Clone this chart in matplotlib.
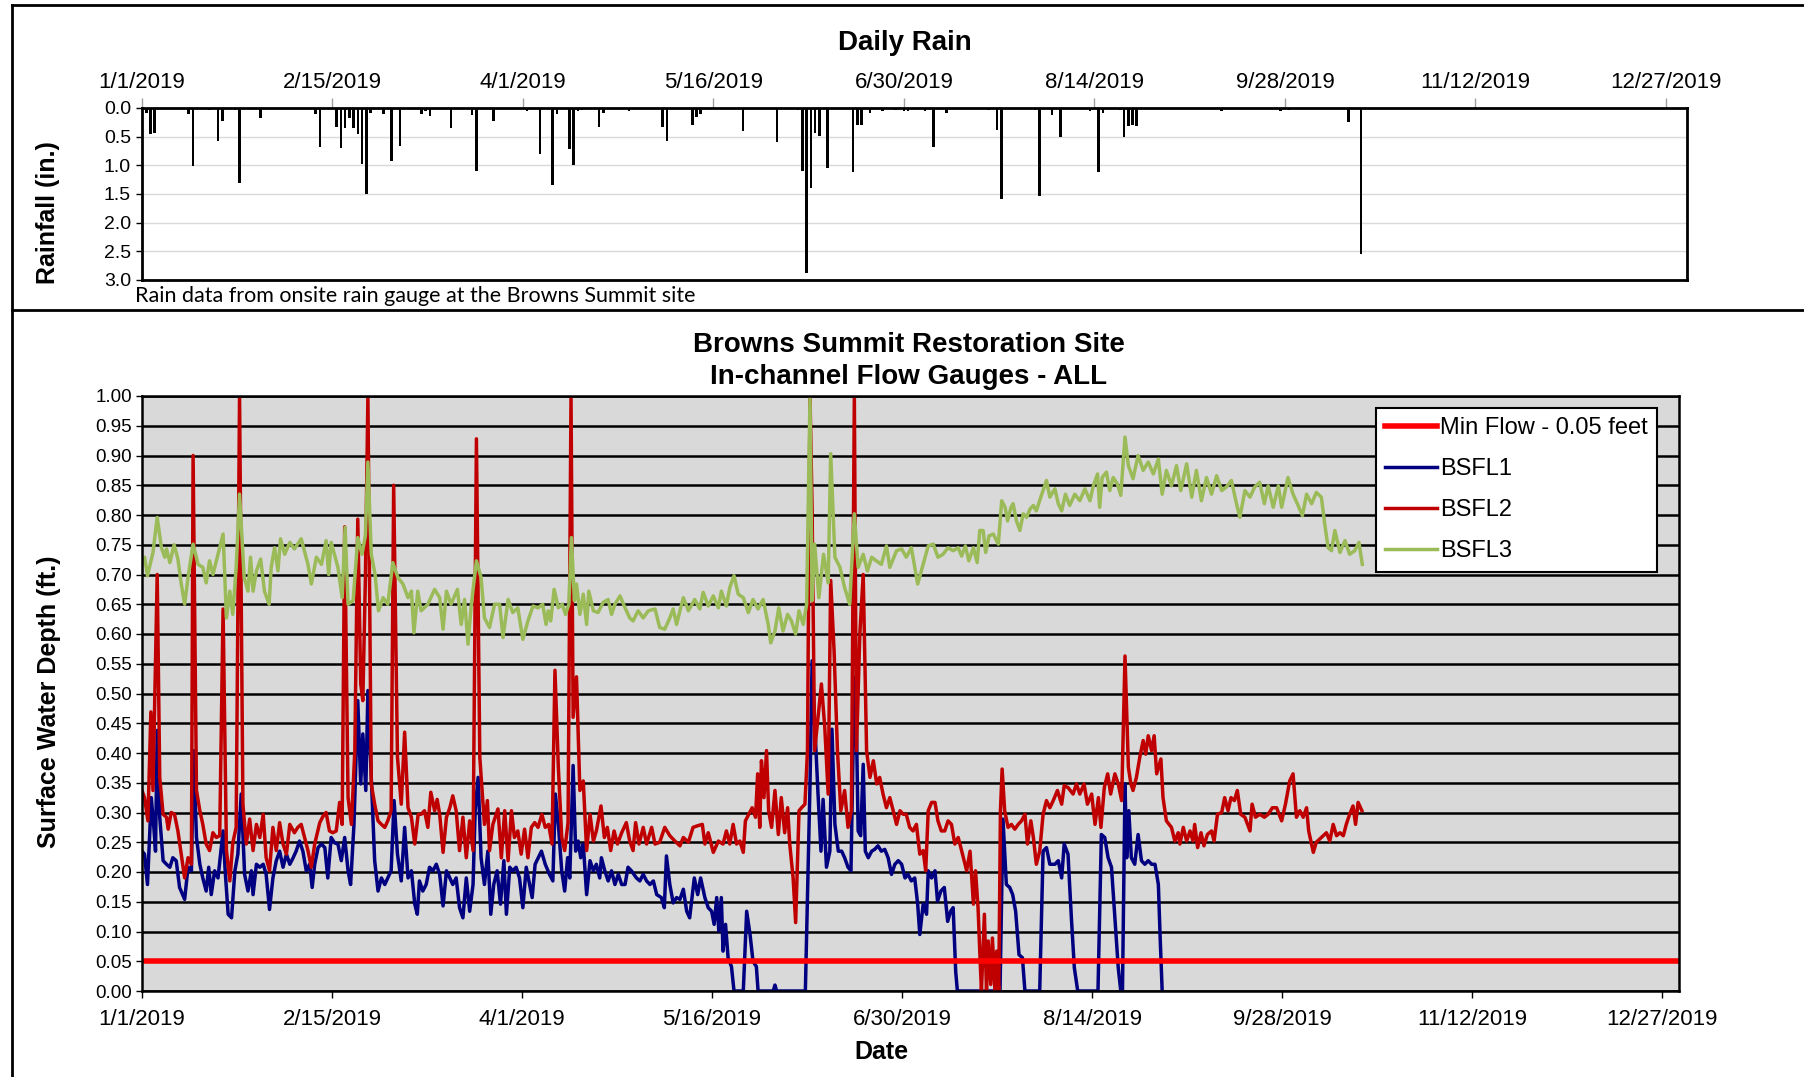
import matplotlib

matplotlib.use("Agg")
import matplotlib.pyplot as plt
import numpy as np
import pandas as pd
from matplotlib.lines import Line2D

W, H = 1804, 1077
START = pd.Timestamp("2019-01-01")
FONT = "Liberation Sans"

# ---- data (day offset from 1/1/2019, value) ----
rain = [(1, 0.08), (2, 0.45), (3, 0.43), (11, 0.10), (12, 1.02), (16, 0.03), (18, 0.58), (19, 0.22),
        (22, 0.03), (23, 1.30), (28, 0.18), (41, 0.10), (42, 0.68), (46, 0.33), (47, 0.70), (48, 0.35),
        (49, 0.18), (50, 0.35), (51, 0.45), (52, 0.97), (53, 1.50), (54, 0.08), (57, 0.10), (59, 0.93),
        (61, 0.66), (66, 0.10), (67, 0.06), (68, 0.14), (73, 0.35), (78, 0.12), (79, 1.10), (83, 0.22),
        (87, 0.02), (91, 0.05), (94, 0.80), (97, 1.35), (98, 0.10), (101, 0.72), (102, 1.00), (103, 0.05),
        (104, 0.04), (108, 0.33), (109, 0.08), (115, 0.05), (123, 0.33), (124, 0.58), (130, 0.30),
        (131, 0.16), (132, 0.10), (142, 0.40), (150, 0.60), (155, 0.03), (156, 1.10), (157, 2.87),
        (158, 1.40), (159, 0.43), (160, 0.48), (162, 1.05), (168, 1.12), (169, 0.30), (170, 0.30),
        (172, 0.08), (175, 0.05), (178, 0.03), (180, 0.06), (181, 0.06), (185, 0.05), (187, 0.68),
        (190, 0.08), (200, 0.03), (202, 0.38), (203, 1.58), (211, 0.03), (212, 1.53), (215, 0.13),
        (217, 0.50), (224, 0.05), (226, 1.12), (227, 0.08), (231, 0.03), (232, 0.50), (233, 0.32),
        (234, 0.30), (235, 0.32), (239, 0.01), (255, 0.06), (269, 0.06), (271, 0.03), (285, 0.25),
        (288, 2.55)]

bsfl1 = [(0.0, 0.235), (0.6, 0.23), (1.3, 0.179), (2.2, 0.325), (2.8, 0.275), (3.2, 0.235), (3.6, 0.438),
         (4.2, 0.292), (5.0, 0.219), (5.8, 0.213), (6.6, 0.208), (7.3, 0.224), (8.1, 0.219), (8.9, 0.174),
         (10.1, 0.154), (10.9, 0.208), (11.7, 0.202), (12.2, 0.404), (12.9, 0.258), (13.7, 0.213),
         (14.4, 0.19), (15.2, 0.168), (15.8, 0.208), (16.4, 0.162), (17.2, 0.202), (18.0, 0.19),
         (19.2, 0.269), (19.7, 0.202), (20.4, 0.129), (21.2, 0.123), (22.0, 0.202), (22.7, 0.23),
         (23.5, 0.331), (24.3, 0.196), (25.1, 0.168), (25.9, 0.202), (26.3, 0.162), (27.1, 0.213),
         (27.9, 0.208), (28.7, 0.213), (29.4, 0.196), (30.2, 0.137), (31.0, 0.19), (31.8, 0.219),
         (32.6, 0.235), (33.4, 0.208), (34.2, 0.23), (35.0, 0.213), (35.8, 0.224), (36.5, 0.235),
         (37.3, 0.252), (38.1, 0.235), (38.9, 0.202), (39.7, 0.213), (40.3, 0.174), (40.9, 0.213),
         (41.7, 0.241), (42.5, 0.247), (43.3, 0.241), (44.0, 0.19), (44.8, 0.258), (45.6, 0.249),
         (46.4, 0.247), (47.2, 0.219), (48.0, 0.258), (48.8, 0.202), (49.4, 0.179), (50.2, 0.28),
         (51.1, 0.488), (51.8, 0.348), (52.3, 0.432), (53.0, 0.337), (53.5, 0.505), (54.3, 0.359),
         (55.1, 0.219), (55.9, 0.168), (56.7, 0.19), (57.5, 0.179), (58.2, 0.19), (59.0, 0.202),
         (59.7, 0.32), (60.5, 0.23), (61.4, 0.185), (62.2, 0.275), (63.0, 0.19), (63.8, 0.202),
         (64.6, 0.146), (65.2, 0.129), (65.7, 0.185), (66.5, 0.168), (67.3, 0.179), (68.1, 0.208),
         (68.9, 0.202), (69.7, 0.213), (70.5, 0.196), (71.3, 0.143), (72.1, 0.202), (72.9, 0.19),
         (73.6, 0.179), (74.4, 0.19), (75.2, 0.14), (76.0, 0.123), (76.8, 0.19), (77.6, 0.134),
         (78.4, 0.179), (78.9, 0.303), (79.6, 0.359), (80.3, 0.224), (81.1, 0.179), (81.9, 0.235),
         (82.6, 0.129), (83.3, 0.179), (84.1, 0.202), (84.9, 0.146), (85.7, 0.219), (86.3, 0.129),
         (87.1, 0.208), (87.8, 0.202), (88.6, 0.208), (89.4, 0.19), (90.2, 0.14), (91.0, 0.208),
         (91.8, 0.179), (92.4, 0.157), (93.1, 0.213), (94.6, 0.235), (95.5, 0.213), (96.5, 0.196),
         (97.3, 0.185), (97.9, 0.331), (98.6, 0.28), (99.4, 0.202), (100.1, 0.168), (100.8, 0.224),
         (101.3, 0.19), (102.1, 0.379), (102.7, 0.235), (103.3, 0.252), (103.9, 0.224), (104.5, 0.247),
         (105.3, 0.162), (106.1, 0.219), (106.9, 0.202), (107.6, 0.213), (108.4, 0.19), (108.8, 0.224),
         (109.6, 0.202), (110.4, 0.185), (111.2, 0.202), (112.0, 0.179), (112.8, 0.196), (113.6, 0.179),
         (114.4, 0.179), (115.1, 0.208), (115.9, 0.202), (117.1, 0.19), (117.9, 0.185), (118.7, 0.196),
         (119.5, 0.185), (120.3, 0.179), (121.1, 0.185), (121.9, 0.162), (123.0, 0.157), (123.7, 0.14),
         (124.2, 0.227), (125.0, 0.179), (125.8, 0.148), (126.6, 0.157), (127.4, 0.154), (128.2, 0.171),
         (129.0, 0.134), (129.7, 0.123), (130.8, 0.19), (131.6, 0.162), (132.3, 0.19), (133.3, 0.157),
         (134.1, 0.14), (134.9, 0.134), (135.5, 0.112), (136.1, 0.157), (136.6, 0.101), (137.2, 0.157),
         (137.6, 0.067), (138.2, 0.112), (138.8, 0.056), (139.6, 0.041), (140.2, 0.0), (142.4, 0.0),
         (143.2, 0.134), (144.0, 0.095), (144.7, 0.05), (145.5, 0.041), (145.9, 0.0), (149.5, 0.0),
         (149.9, 0.01), (150.3, 0.0), (157.1, 0.0), (158.2, 0.348), (158.7, 0.555), (159.3, 0.452),
         (160.1, 0.331), (160.8, 0.235), (161.3, 0.322), (162.1, 0.208), (162.9, 0.235), (163.4, 0.44),
         (164.1, 0.28), (164.9, 0.235), (165.7, 0.235), (166.4, 0.224), (167.2, 0.208), (167.9, 0.202),
         (168.4, 0.404), (169.0, 0.528), (169.6, 0.269), (170.2, 0.261), (170.8, 0.381), (171.3, 0.235),
         (172.0, 0.224), (172.8, 0.235), (173.5, 0.238), (174.3, 0.244), (175.1, 0.235), (175.9, 0.238),
         (176.7, 0.224), (177.5, 0.196), (178.3, 0.213), (179.1, 0.219), (179.9, 0.213), (180.7, 0.19),
         (181.4, 0.196), (182.2, 0.185), (183.0, 0.19), (183.7, 0.146), (184.2, 0.095), (185.0, 0.146),
         (185.8, 0.129), (186.2, 0.202), (187.0, 0.19), (187.8, 0.202), (188.4, 0.151), (189.2, 0.168),
         (190.0, 0.174), (190.8, 0.117), (191.5, 0.134), (192.1, 0.14), (192.7, 0.033), (193.1, 0.0),
         (203.2, 0.0), (203.9, 0.289), (204.7, 0.179), (205.5, 0.174), (206.2, 0.162), (206.9, 0.134),
         (207.7, 0.061), (208.5, 0.056), (209.1, 0.0), (212.6, 0.0), (213.4, 0.235), (214.2, 0.241),
         (215.0, 0.213), (216.2, 0.213), (217.0, 0.219), (217.8, 0.19), (218.4, 0.247), (219.3, 0.23),
         (220.1, 0.123), (220.8, 0.039), (221.6, 0.0), (226.4, 0.0), (227.2, 0.263), (228.0, 0.258),
         (228.8, 0.224), (229.6, 0.208), (230.4, 0.123), (231.2, 0.039), (231.8, 0.0), (232.2, 0.0),
         (232.8, 0.348), (233.2, 0.224), (233.7, 0.303), (234.3, 0.224), (235.1, 0.213), (235.9, 0.263),
         (236.7, 0.219), (237.5, 0.213), (238.3, 0.219), (239.1, 0.213), (239.9, 0.213), (240.7, 0.179),
         (241.1, 0.095), (241.6, 0.0)]

bsfl2 = [(0.0, 0.337), (0.6, 0.325), (1.4, 0.286), (2.1, 0.469), (2.6, 0.337), (3.6, 0.70), (4.2, 0.359),
         (5.0, 0.297), (5.8, 0.292), (6.2, 0.272), (6.9, 0.30), (7.7, 0.297), (8.5, 0.269), (9.3, 0.23),
         (10.1, 0.19), (10.9, 0.224), (11.7, 0.213), (12.1, 0.90), (12.9, 0.337), (13.7, 0.303),
         (14.4, 0.28), (15.2, 0.247), (16.0, 0.236), (16.8, 0.266), (17.6, 0.258), (18.4, 0.261),
         (19.2, 0.642), (20.0, 0.236), (20.8, 0.185), (21.5, 0.249), (22.3, 0.275), (23.1, 1.0),
         (23.9, 0.314), (24.7, 0.247), (25.5, 0.289), (26.3, 0.236), (27.1, 0.28), (27.9, 0.258),
         (28.7, 0.297), (29.4, 0.224), (30.2, 0.202), (31.0, 0.275), (31.8, 0.236), (32.6, 0.283),
         (33.4, 0.247), (34.2, 0.23), (35.0, 0.28), (36.1, 0.266), (36.9, 0.275), (37.7, 0.28),
         (38.5, 0.258), (39.3, 0.236), (40.1, 0.208), (40.9, 0.247), (42.1, 0.283), (42.9, 0.294),
         (43.6, 0.30), (44.4, 0.269), (45.2, 0.266), (46.0, 0.269), (46.8, 0.317), (47.4, 0.28),
         (48.0, 0.78), (48.8, 0.325), (49.6, 0.28), (50.4, 0.404), (51.1, 0.793), (51.8, 0.516),
         (52.3, 0.488), (52.9, 0.692), (53.5, 1.0), (54.3, 0.348), (55.1, 0.314), (55.9, 0.286),
         (56.7, 0.28), (57.5, 0.275), (58.2, 0.286), (59.0, 0.303), (59.6, 0.85), (60.5, 0.393),
         (61.4, 0.314), (62.2, 0.435), (63.0, 0.308), (63.8, 0.292), (64.6, 0.247), (65.4, 0.297),
         (66.1, 0.297), (66.9, 0.303), (67.7, 0.275), (68.4, 0.334), (69.3, 0.303), (69.9, 0.322),
         (70.5, 0.297), (71.3, 0.233), (72.1, 0.292), (72.9, 0.308), (73.6, 0.328), (74.4, 0.303),
         (75.2, 0.236), (76.0, 0.292), (76.8, 0.224), (77.6, 0.286), (78.4, 0.236), (79.2, 0.928),
         (80.0, 0.393), (81.1, 0.28), (81.8, 0.32), (82.3, 0.236), (83.1, 0.28), (84.3, 0.306),
         (85.1, 0.224), (85.9, 0.303), (86.7, 0.219), (87.5, 0.303), (88.2, 0.258), (89.0, 0.269),
         (89.8, 0.23), (90.6, 0.272), (91.4, 0.224), (92.2, 0.275), (93.0, 0.283), (93.8, 0.275),
         (94.7, 0.297), (95.5, 0.275), (96.3, 0.28), (97.1, 0.247), (97.8, 0.539), (98.6, 0.376),
         (99.4, 0.258), (100.1, 0.236), (100.9, 0.283), (101.6, 1.0), (102.1, 0.46), (102.9, 0.528),
         (103.7, 0.337), (104.5, 0.353), (105.3, 0.236), (106.1, 0.297), (106.9, 0.252), (107.6, 0.269),
         (108.7, 0.311), (109.5, 0.258), (110.2, 0.275), (111.0, 0.236), (111.8, 0.269), (112.6, 0.247),
         (113.6, 0.266), (114.7, 0.283), (115.5, 0.252), (116.3, 0.236), (116.9, 0.283), (117.7, 0.247),
         (118.7, 0.275), (119.5, 0.247), (120.7, 0.275), (121.5, 0.247), (122.6, 0.25), (123.8, 0.275),
         (125.0, 0.261), (126.2, 0.252), (127.4, 0.244), (128.2, 0.258), (129.4, 0.25), (130.5, 0.275),
         (131.7, 0.278), (132.7, 0.28), (133.3, 0.247), (134.1, 0.266), (135.3, 0.233), (136.5, 0.252),
         (137.6, 0.247), (138.4, 0.269), (139.2, 0.247), (140.0, 0.28), (140.8, 0.247), (141.6, 0.252),
         (142.4, 0.233), (142.9, 0.286), (143.7, 0.297), (144.5, 0.308), (145.3, 0.292), (145.8, 0.365),
         (146.3, 0.275), (146.7, 0.387), (147.3, 0.325), (147.9, 0.404), (148.4, 0.303), (149.1, 0.275),
         (149.9, 0.337), (150.7, 0.263), (151.4, 0.325), (152.2, 0.266), (152.9, 0.308), (153.4, 0.247),
         (154.2, 0.19), (154.8, 0.115), (155.6, 0.303), (156.2, 0.308), (157.0, 0.314), (157.6, 0.404),
         (158.2, 1.0), (158.7, 0.807), (159.3, 0.404), (160.1, 0.46), (160.9, 0.516), (161.7, 0.443),
         (162.5, 0.331), (163.1, 0.69), (163.9, 0.572), (164.7, 0.404), (165.5, 0.303), (166.4, 0.337),
         (167.2, 0.275), (168.0, 0.303), (168.7, 1.0), (169.2, 0.404), (170.0, 0.60), (170.8, 0.70),
         (171.6, 0.404), (172.4, 0.359), (173.2, 0.387), (174.0, 0.348), (174.7, 0.359), (175.5, 0.331),
         (176.3, 0.308), (177.1, 0.325), (177.9, 0.303), (178.7, 0.28), (179.5, 0.303), (180.3, 0.297),
         (181.0, 0.297), (181.8, 0.275), (182.6, 0.269), (183.4, 0.28), (184.2, 0.23), (185.0, 0.236),
         (185.6, 0.202), (186.2, 0.303), (187.0, 0.317), (187.8, 0.317), (188.5, 0.286), (189.3, 0.269),
         (190.1, 0.269), (190.9, 0.286), (191.7, 0.28), (192.5, 0.247), (193.3, 0.258), (194.1, 0.236),
         (195.3, 0.202), (196.1, 0.235), (196.9, 0.146), (197.4, 0.202), (198.0, 0.14), (198.4, 0.067),
         (198.8, 0.0), (199.5, 0.129), (200.0, 0.0), (200.4, 0.084), (201.0, 0.011), (201.4, 0.089),
         (202.0, 0.0), (202.4, 0.067), (202.9, 0.0), (203.3, 0.303), (203.7, 0.373), (204.3, 0.303),
         (205.1, 0.275), (205.9, 0.28), (206.7, 0.272), (207.5, 0.28), (208.3, 0.286), (209.1, 0.297),
         (209.7, 0.247), (210.5, 0.286), (211.1, 0.258), (211.8, 0.213), (212.6, 0.235), (213.4, 0.297),
         (214.2, 0.32), (215.0, 0.308), (215.8, 0.32), (216.8, 0.337), (217.8, 0.314), (218.4, 0.345),
         (219.3, 0.342), (220.5, 0.331), (221.3, 0.348), (222.1, 0.331), (223.1, 0.348), (223.9, 0.314),
         (224.9, 0.331), (225.7, 0.28), (226.5, 0.325), (227.1, 0.275), (227.9, 0.342), (228.7, 0.365),
         (229.4, 0.331), (230.4, 0.365), (231.2, 0.348), (232.0, 0.32), (232.8, 0.563), (233.6, 0.376),
         (234.2, 0.348), (234.7, 0.337), (235.5, 0.359), (236.3, 0.393), (237.1, 0.421), (237.7, 0.398),
         (238.3, 0.429), (239.1, 0.404), (239.7, 0.429), (240.3, 0.365), (241.3, 0.39), (241.8, 0.325),
         (242.6, 0.286), (243.8, 0.275), (244.6, 0.252), (245.4, 0.266), (245.8, 0.247), (246.6, 0.275),
         (247.4, 0.252), (248.2, 0.269), (248.9, 0.252), (249.3, 0.28), (250.0, 0.241), (250.8, 0.266),
         (251.5, 0.244), (252.3, 0.263), (253.3, 0.269), (253.9, 0.252), (254.7, 0.297), (255.7, 0.30),
         (256.4, 0.325), (257.2, 0.303), (257.9, 0.325), (258.7, 0.32), (259.4, 0.337), (260.2, 0.297),
         (261.2, 0.292), (262.4, 0.269), (262.9, 0.314), (263.7, 0.292), (264.7, 0.297), (265.8, 0.292),
         (266.7, 0.297), (267.7, 0.308), (268.7, 0.308), (269.9, 0.286), (270.8, 0.314), (271.8, 0.353),
         (272.6, 0.365), (273.4, 0.292), (274.2, 0.303), (275.0, 0.292), (275.8, 0.308), (276.3, 0.269),
         (277.4, 0.233), (278.1, 0.25), (279.3, 0.258), (280.5, 0.266), (281.3, 0.252), (282.1, 0.28),
         (282.9, 0.261), (283.7, 0.266), (284.5, 0.261), (285.2, 0.28), (286.0, 0.297), (286.8, 0.311),
         (287.4, 0.28), (288.0, 0.317), (288.9, 0.303)]

bsfl3 = [(0.0, 0.717), (0.6, 0.729), (1.3, 0.698), (2.6, 0.737), (3.6, 0.796), (4.6, 0.745), (5.4, 0.729),
         (5.8, 0.743), (6.6, 0.72), (7.6, 0.75), (8.5, 0.726), (9.3, 0.684), (10.1, 0.65), (10.9, 0.695),
         (12.1, 0.751), (13.3, 0.717), (14.4, 0.712), (15.2, 0.686), (16.0, 0.723), (16.8, 0.70),
         (18.0, 0.734), (19.2, 0.768), (20.0, 0.627), (20.8, 0.672), (21.5, 0.633), (22.3, 0.712),
         (23.1, 0.835), (24.2, 0.695), (25.1, 0.672), (25.7, 0.729), (26.3, 0.672), (27.1, 0.706),
         (28.1, 0.726), (29.0, 0.672), (30.1, 0.65), (30.6, 0.712), (31.4, 0.745), (32.2, 0.706),
         (32.8, 0.76), (33.8, 0.734), (35.0, 0.754), (36.1, 0.743), (37.7, 0.76), (39.3, 0.717),
         (40.1, 0.684), (41.3, 0.729), (42.5, 0.717), (43.6, 0.757), (44.2, 0.70), (44.8, 0.754),
         (46.4, 0.712), (47.4, 0.661), (48.1, 0.779), (48.8, 0.65), (50.0, 0.656), (51.1, 0.762),
         (52.1, 0.734), (52.9, 0.765), (53.5, 0.889), (54.3, 0.734), (55.2, 0.70), (56.0, 0.639),
         (57.1, 0.661), (58.2, 0.65), (59.4, 0.72), (60.6, 0.695), (61.8, 0.684), (63.0, 0.661),
         (63.8, 0.672), (64.4, 0.602), (65.3, 0.672), (66.1, 0.639), (67.7, 0.65), (69.3, 0.675),
         (70.5, 0.661), (71.3, 0.608), (72.1, 0.672), (73.2, 0.65), (74.7, 0.675), (75.6, 0.616),
         (76.4, 0.658), (77.2, 0.583), (78.0, 0.65), (79.2, 0.723), (80.3, 0.695), (81.1, 0.627),
         (82.3, 0.611), (83.5, 0.65), (84.7, 0.65), (85.5, 0.594), (86.7, 0.658), (87.8, 0.636),
         (89.0, 0.644), (90.2, 0.591), (91.4, 0.622), (92.6, 0.647), (93.8, 0.644), (94.9, 0.65),
         (95.7, 0.616), (96.2, 0.639), (96.8, 0.622), (97.6, 0.675), (98.6, 0.644), (99.5, 0.65),
         (100.3, 0.633), (101.1, 0.65), (101.7, 0.762), (102.4, 0.656), (102.9, 0.684), (103.7, 0.633),
         (104.5, 0.667), (105.3, 0.616), (105.8, 0.672), (106.9, 0.639), (108.0, 0.636), (109.2, 0.653),
         (110.4, 0.658), (111.2, 0.633), (112.0, 0.65), (113.2, 0.664), (114.4, 0.644), (115.5, 0.627),
         (116.3, 0.622), (117.5, 0.639), (118.7, 0.627), (119.9, 0.639), (121.5, 0.642), (122.6, 0.611),
         (123.8, 0.608), (125.0, 0.627), (125.8, 0.642), (126.6, 0.616), (127.4, 0.639), (128.2, 0.661),
         (129.4, 0.639), (130.9, 0.658), (132.1, 0.642), (132.9, 0.67), (134.1, 0.647), (135.3, 0.664),
         (136.5, 0.644), (137.2, 0.672), (138.4, 0.647), (139.2, 0.678), (140.2, 0.698), (141.2, 0.667),
         (142.4, 0.661), (143.6, 0.636), (144.7, 0.658), (145.9, 0.642), (147.1, 0.658), (148.3, 0.616),
         (148.9, 0.585), (149.9, 0.605), (150.8, 0.644), (151.8, 0.605), (152.9, 0.633), (153.8, 0.622),
         (154.8, 0.60), (155.6, 0.639), (156.6, 0.616), (157.4, 0.65), (158.2, 1.0), (158.7, 0.656),
         (159.3, 0.751), (160.3, 0.661), (161.4, 0.734), (162.5, 0.686), (163.1, 0.903), (164.1, 0.729),
         (165.3, 0.712), (166.4, 0.678), (167.6, 0.65), (168.7, 0.802), (169.6, 0.712), (170.8, 0.734),
         (171.8, 0.706), (172.8, 0.729), (173.9, 0.723), (175.1, 0.717), (176.3, 0.748), (177.1, 0.712),
         (178.7, 0.74), (179.9, 0.743), (181.0, 0.729), (182.2, 0.745), (183.7, 0.684), (185.0, 0.717),
         (186.2, 0.748), (187.4, 0.751), (188.5, 0.729), (189.7, 0.734), (190.9, 0.745), (192.1, 0.74),
         (193.3, 0.745), (194.1, 0.731), (195.0, 0.748), (195.8, 0.723), (196.9, 0.745), (197.8, 0.72),
         (198.4, 0.774), (199.2, 0.774), (199.8, 0.737), (200.6, 0.765), (201.6, 0.768), (202.8, 0.751),
         (203.6, 0.824), (204.4, 0.813), (205.0, 0.79), (205.8, 0.813), (206.3, 0.819), (207.1, 0.79),
         (207.9, 0.774), (208.7, 0.802), (209.5, 0.796), (210.3, 0.81), (211.1, 0.816), (211.8, 0.807),
         (213.0, 0.833), (214.2, 0.858), (215.0, 0.83), (216.2, 0.844), (217.0, 0.819), (217.8, 0.807),
         (218.7, 0.835), (219.7, 0.816), (220.9, 0.835), (222.1, 0.824), (223.3, 0.844), (224.5, 0.824),
         (225.3, 0.849), (226.3, 0.869), (226.8, 0.813), (227.4, 0.863), (228.4, 0.872), (229.2, 0.841),
         (230.0, 0.863), (231.0, 0.852), (231.8, 0.833), (232.8, 0.931), (233.6, 0.883), (234.7, 0.861),
         (235.9, 0.9), (237.1, 0.875), (238.3, 0.889), (239.5, 0.869), (240.7, 0.894), (241.6, 0.835),
         (242.6, 0.875), (243.8, 0.849), (245.0, 0.883), (246.0, 0.841), (247.4, 0.886), (248.6, 0.83),
         (249.7, 0.875), (250.9, 0.824), (252.1, 0.863), (253.3, 0.835), (254.5, 0.866), (255.7, 0.841),
         (256.8, 0.847), (258.0, 0.858), (259.2, 0.819), (260.0, 0.796), (261.2, 0.841), (262.4, 0.83),
         (263.5, 0.847), (264.7, 0.855), (265.8, 0.819), (266.7, 0.849), (267.9, 0.813), (269.1, 0.849),
         (269.9, 0.813), (271.4, 0.863), (272.6, 0.835), (273.8, 0.816), (274.8, 0.799), (275.8, 0.835),
         (277.0, 0.819), (278.1, 0.838), (279.3, 0.83), (280.1, 0.785), (280.9, 0.745), (281.7, 0.74),
         (282.5, 0.774), (283.7, 0.737), (284.9, 0.757), (286.0, 0.734), (287.2, 0.74), (288.2, 0.754),
         (289.0, 0.717)]

MIN_FLOW = 0.05

C_MIN = "#ff0000"
C_1 = "#000080"
C_2 = "#c00000"
C_3 = "#9bbb59"


def to_dates(days):
    return START + pd.to_timedelta(np.asarray(days, dtype=float), unit="D")


def unzip(pairs):
    d, v = zip(*pairs)
    return to_dates(d), np.asarray(v)


def rect(x0, y0, x1, y1):
    return [x0 / W, 1 - y1 / H, (x1 - x0) / W, (y1 - y0) / H]


def date_label(d):
    return f"{d.month}/{d.day}/{d.year}"


plt.rcParams.update({"font.family": FONT, "axes.edgecolor": "black"})
fig = plt.figure(figsize=(W / 100, H / 100), dpi=100)

ticks = pd.date_range(START, periods=9, freq="45D")

# ---- daily rain panel ----
axr = fig.add_axes(rect(142, 108, 1687, 280))
rd, rv = unzip(rain)
axr.bar(rd, rv, width=0.6, color="black", align="center", zorder=3)
axr.set_xlim(START, START + pd.Timedelta(days=365))
axr.set_ylim(3, 0)
axr.set_yticks(np.arange(0, 3.01, 0.5))
axr.set_yticklabels([f"{v:.1f}" for v in np.arange(0, 3.01, 0.5)])
axr.xaxis.tick_top()
axr.set_xticks(ticks)
axr.set_xticklabels([date_label(t) for t in ticks])
axr.tick_params(axis="x", top=True, bottom=False, length=7, width=1, color="#a0a0a0",
                pad=3.5, labelsize=16)
axr.tick_params(axis="y", length=4, width=1, labelsize=14, pad=4)
axr.grid(axis="y", color="#d9d9d9", linewidth=1)
axr.set_axisbelow(True)
for s in axr.spines.values():
    s.set_linewidth(2)

fig.text(905 / W, 1 - 43 / H, "Daily Rain", ha="center", va="center", fontsize=20, fontweight="bold")
fig.text(48 / W, 1 - 213 / H, "Rainfall (in.)", ha="center", va="center", rotation=90,
         fontsize=18, fontweight="bold")
fig.text(135 / W, 1 - 296 / H, "Rain data from onsite rain gauge at the Browns Summit site",
         ha="left", va="center", fontsize=15.5, family="Lato")

# ---- flow gauge panel ----
ax = fig.add_axes(rect(142, 396, 1679, 991))
ax.set_facecolor("#d9d9d9")
d1, v1 = unzip(bsfl1)
d2, v2 = unzip(bsfl2)
d3, v3 = unzip(bsfl3)
l1, = ax.plot(d1, v1, color=C_1, linewidth=2.5, zorder=2)
l2, = ax.plot(d2, v2, color=C_2, linewidth=2.5, zorder=2.1)
l3, = ax.plot(d3, v3, color=C_3, linewidth=2.5, zorder=2.2)
lm = ax.axhline(MIN_FLOW, color=C_MIN, linewidth=4, zorder=2.3)

ax.set_xlim(START, START + pd.Timedelta(days=364))
ax.set_ylim(0, 1)
yt = np.arange(0, 1.001, 0.05)
ax.set_yticks(yt)
ax.set_yticklabels([f"{v:.2f}" for v in yt])
ax.set_xticks(ticks)
ax.set_xticklabels([date_label(t) for t in ticks])
ax.tick_params(axis="x", length=5, width=1, pad=8, labelsize=16)
ax.tick_params(axis="y", length=4, width=1, labelsize=13.5, pad=3)
ax.grid(axis="y", color="black", linewidth=1.8)
ax.set_axisbelow(True)
for s in ax.spines.values():
    s.set_linewidth(1.8)
    s.set_zorder(3)

leg = ax.legend([lm, l1, l2, l3], ["Min Flow - 0.05 feet", "BSFL1", "BSFL2", "BSFL3"],
                loc="upper left", bbox_to_anchor=(1376 / W, 1 - 408 / H),
                bbox_transform=fig.transFigure, frameon=True, fancybox=False, framealpha=1,
                edgecolor="black", fontsize=17, handlelength=2.2, handletextpad=0.1,
                labelspacing=0.8, borderpad=0.4, borderaxespad=0)
leg.get_frame().set_linewidth(1.5)

fig.text(909 / W, 1 - 345 / H, "Browns Summit Restoration Site", ha="center", va="center",
         fontsize=20, fontweight="bold")
fig.text(909 / W, 1 - 377 / H, "In-channel Flow Gauges - ALL", ha="center", va="center",
         fontsize=20, fontweight="bold")
fig.text(881 / W, 1 - 1052 / H, "Date", ha="center", va="center", fontsize=18, fontweight="bold")
fig.text(49 / W, 1 - 702 / H, "Surface Water Depth (ft.)", ha="center", va="center", rotation=90,
         fontsize=18, fontweight="bold")

# ---- frame around the two panels ----
for xs, ys in [((11.5, W), (5, 5)), ((11.5, 11.5), (5, H)), ((11.5, W), (310, 310))]:
    fig.add_artist(Line2D([x / W for x in xs], [1 - y / H for y in ys], color="black",
                          linewidth=2, transform=fig.transFigure))

fig.savefig("out.png", dpi=100)
